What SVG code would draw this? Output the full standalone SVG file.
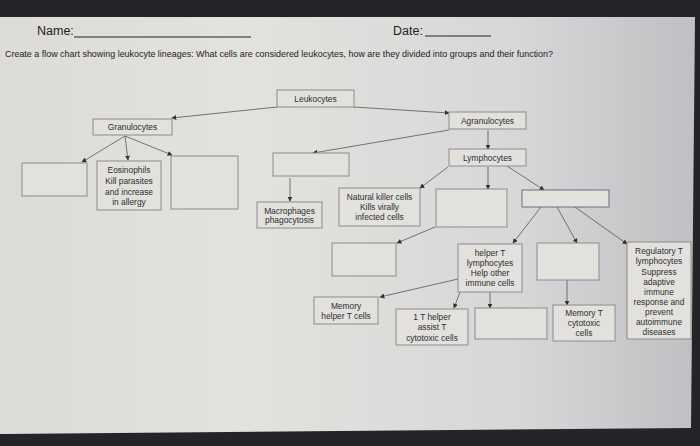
<svg xmlns="http://www.w3.org/2000/svg" width="700" height="446" viewBox="0 0 700 446">
<defs>
<linearGradient id="pg" x1="0" y1="0" x2="1" y2="0">
<stop offset="0" stop-color="#dcdbd8"/>
<stop offset="0.35" stop-color="#e3e2de"/>
<stop offset="0.75" stop-color="#d7d7d8"/>
<stop offset="1" stop-color="#c0c0c4"/>
</linearGradient>
<marker id="ah" viewBox="0 0 8 8" refX="7" refY="4" markerWidth="5" markerHeight="5" orient="auto" markerUnits="userSpaceOnUse">
<path d="M0,0 L8,4 L0,8 z" fill="#333"/>
</marker>
<style>
.bx{fill:#e2e1de;stroke:#8c8c8c;stroke-width:1}
.t{font-family:"Liberation Sans",Arial,sans-serif;font-size:8.4px;fill:#2e2e2e;text-anchor:middle}
.c{stroke:#555;stroke-width:0.8;fill:none;marker-end:url(#ah)}
</style>
</defs>
<rect x="0" y="0" width="700" height="446" fill="#24242a"/>
<polygon points="0,17 695,17 691,428 4,434 0,434" fill="url(#pg)"/>
<g id="header">
<text x="37" y="35" style="font-family:'Liberation Sans',Arial,sans-serif;font-size:12.5px;fill:#222">Name:</text>
<line x1="74" y1="37" x2="251" y2="37" stroke="#222" stroke-width="1"/>
<text x="393" y="35" style="font-family:'Liberation Sans',Arial,sans-serif;font-size:12.5px;fill:#222">Date:</text>
<line x1="425" y1="36" x2="491" y2="36" stroke="#222" stroke-width="1"/>
<text x="5" y="57" textLength="548" lengthAdjust="spacingAndGlyphs" style="font-family:'Liberation Sans',Arial,sans-serif;font-size:9px;fill:#222">Create a flow chart showing leukocyte lineages: What cells are considered leukocytes, how are they divided into groups and their function?</text>
</g>
<g id="connectors">
<path class="c" d="M277,107 L172,118"/>
<path class="c" d="M354,107 L449,113"/>
<path class="c" d="M125,136 L82,162"/>
<path class="c" d="M125,136 L128,160"/>
<path class="c" d="M125,136 L172,155"/>
<path class="c" d="M449,130 L313,153"/>
<path class="c" d="M290,178 L290,201"/>
<path class="c" d="M488,130 L488,149"/>
<path class="c" d="M448,167 L420,188"/>
<path class="c" d="M488,167 L488,189"/>
<path class="c" d="M507,166 L544,190"/>
<path class="c" d="M435,227 L397,243"/>
<path class="c" d="M541,207 L513,243"/>
<path class="c" d="M557,207 L577,243"/>
<path class="c" d="M575,207 L627,244"/>
<path class="c" d="M458,279 L380,297"/>
<path class="c" d="M460,292 L454,308"/>
<path class="c" d="M490,292 L490,308"/>
<path class="c" d="M567,280 L567,305"/>
</g>
<g id="leukocytes"><rect class="bx" x="277" y="90" width="77" height="17"/><text class="t" x="315.5" y="101.5">Leukocytes</text></g>
<g id="granulocytes"><rect class="bx" x="93" y="119" width="79" height="16"/><text class="t" x="132.5" y="130">Granulocytes</text></g>
<g id="agranulocytes"><rect class="bx" x="449" y="112" width="77" height="17"/><text class="t" x="487.5" y="123.5">Agranulocytes</text></g>
<g id="lymphocytes"><rect class="bx" x="449" y="149" width="77" height="17"/><text class="t" x="487.5" y="160.5">Lymphocytes</text></g>
<g id="gran-empty-left"><rect class="bx" x="22" y="163" width="65" height="33"/></g>
<g id="eosinophils"><rect class="bx" x="97" y="161" width="64" height="49"/>
<text class="t" x="129" y="173">Eosinophils</text><text class="t" x="129" y="184">Kill parasites</text><text class="t" x="129" y="195">and increase</text><text class="t" x="129" y="205">in allergy</text></g>
<g id="gran-empty-right"><rect class="bx" x="171" y="156" width="67" height="53"/></g>
<g id="agran-empty"><rect class="bx" x="273" y="153" width="76" height="23"/></g>
<g id="macrophages"><rect class="bx" x="257" y="202" width="65" height="26"/>
<text class="t" x="289.5" y="213.5">Macrophages</text><text class="t" x="289.5" y="223">phagocytosis</text></g>
<g id="nk"><rect class="bx" x="339" y="188" width="81" height="38"/>
<text class="t" x="379.5" y="200">Natural killer cells</text><text class="t" x="379.5" y="210">Kills virally</text><text class="t" x="379.5" y="220">infected cells</text></g>
<g id="lymph-empty"><rect class="bx" x="436" y="189" width="71" height="38"/></g>
<g id="tcells"><rect class="bx" x="522" y="190" width="87" height="17" style="stroke:#6a6f80"/></g>
<g id="b-empty"><rect class="bx" x="332" y="243" width="64" height="33"/></g>
<g id="helper"><rect class="bx" x="458" y="244" width="64" height="48"/>
<text class="t" x="490" y="256">helper T</text><text class="t" x="490" y="266">lymphocytes</text><text class="t" x="490" y="276">Help other</text><text class="t" x="490" y="286">immune cells</text></g>
<g id="t-empty"><rect class="bx" x="537" y="243" width="62" height="37"/></g>
<g id="regulatory"><rect class="bx" x="627" y="242" width="64" height="97"/>
<text class="t" x="659" y="254">Regulatory T</text><text class="t" x="659" y="264">lymphocytes</text><text class="t" x="659" y="274.5">Suppress</text><text class="t" x="659" y="284.5">adaptive</text><text class="t" x="659" y="294.5">immune</text><text class="t" x="659" y="304.5">response and</text><text class="t" x="659" y="314.5">prevent</text><text class="t" x="659" y="324.5">autoimmune</text><text class="t" x="659" y="334.5">diseases</text></g>
<g id="memory-helper"><rect class="bx" x="314" y="297" width="64" height="27"/>
<text class="t" x="346" y="308.5">Memory</text><text class="t" x="346" y="318.5">helper T cells</text></g>
<g id="one-t-helper"><rect class="bx" x="396" y="309" width="72" height="36"/>
<text class="t" x="432" y="320">1 T helper</text><text class="t" x="432" y="330">assist T</text><text class="t" x="432" y="340.5">cytotoxic cells</text></g>
<g id="helper-empty"><rect class="bx" x="475" y="308" width="72" height="31"/></g>
<g id="memory-t"><rect class="bx" x="553" y="305" width="62" height="36"/>
<text class="t" x="584" y="316">Memory T</text><text class="t" x="584" y="326">cytotoxic</text><text class="t" x="584" y="336">cells</text></g>
</svg>
